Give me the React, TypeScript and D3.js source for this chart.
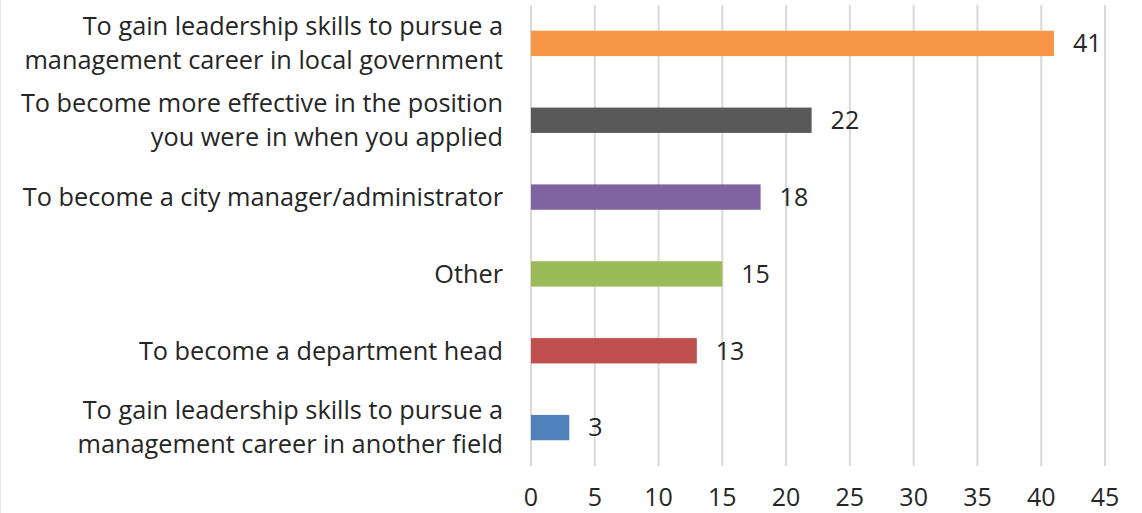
import React from "react";
import * as d3 from "d3";

const categories: string[][] = [
  ["To gain leadership skills to pursue a", "management career in local government"],
  ["To become more effective in the position", "you were in when you applied"],
  ["To become a city manager/administrator"],
  ["Other"],
  ["To become a department head"],
  ["To gain leadership skills to pursue a", "management career in another field"],
];
const values: number[] = [41, 22, 18, 15, 13, 3];
const colors: string[] = ["#F79646", "#595959", "#8064A2", "#9BBB59", "#C0504D", "#4F81BD"];
const ticks: number[] = [0, 5, 10, 15, 20, 25, 30, 35, 40, 45];

const W = 1142;
const H = 513;
const left = 531;
const right = 1105;
const top = 5;
const bottom = 466;
const FONT = "'Open Sans', sans-serif";
const FS = 25.3;
const FSN = 25;

export default function App() {
  const x = d3.scaleLinear().domain([0, 45]).range([left, right]);
  const y = d3
    .scaleBand<number>()
    .domain(d3.range(categories.length))
    .range([top, bottom])
    .paddingInner(0.67)
    .paddingOuter(0.335);
  const lineH = 34;
  return (
    <svg
      width={W}
      height={H}
      style={{ position: "absolute", left: 0, top: 0, background: "#fff" }}
      fontFamily={FONT}
    >
      <line x1={0.5} x2={0.5} y1={0} y2={H} stroke="#E6E6E6" strokeWidth={1} />
      {ticks.map((t) => (
        <g key={t}>
          <line x1={x(t)} x2={x(t)} y1={top} y2={bottom} stroke="#D9D9D9" strokeWidth={2} />
          <text x={x(t)} y={497} dy="0.35em" textAnchor="middle" fontSize={FSN} fill="#262626">
            {t}
          </text>
        </g>
      ))}
      {values.map((v, i) => {
        const yc = (y(i) as number) + y.bandwidth() / 2;
        const lines = categories[i];
        return (
          <g key={i}>
            <rect
              x={x(0)}
              y={y(i)}
              width={x(v) - x(0)}
              height={y.bandwidth()}
              fill={colors[i]}
            />
            <text x={x(v) + 19} y={yc} dy="0.35em" fontSize={FSN} fill="#262626">
              {v}
            </text>
            {lines.map((l, j) => (
              <text
                key={j}
                x={503}
                y={yc + (j - (lines.length - 1) / 2) * lineH}
                dy="0.35em"
                textAnchor="end"
                fontSize={FS}
                fill="#262626"
              >
                {l}
              </text>
            ))}
          </g>
        );
      })}
    </svg>
  );
}
